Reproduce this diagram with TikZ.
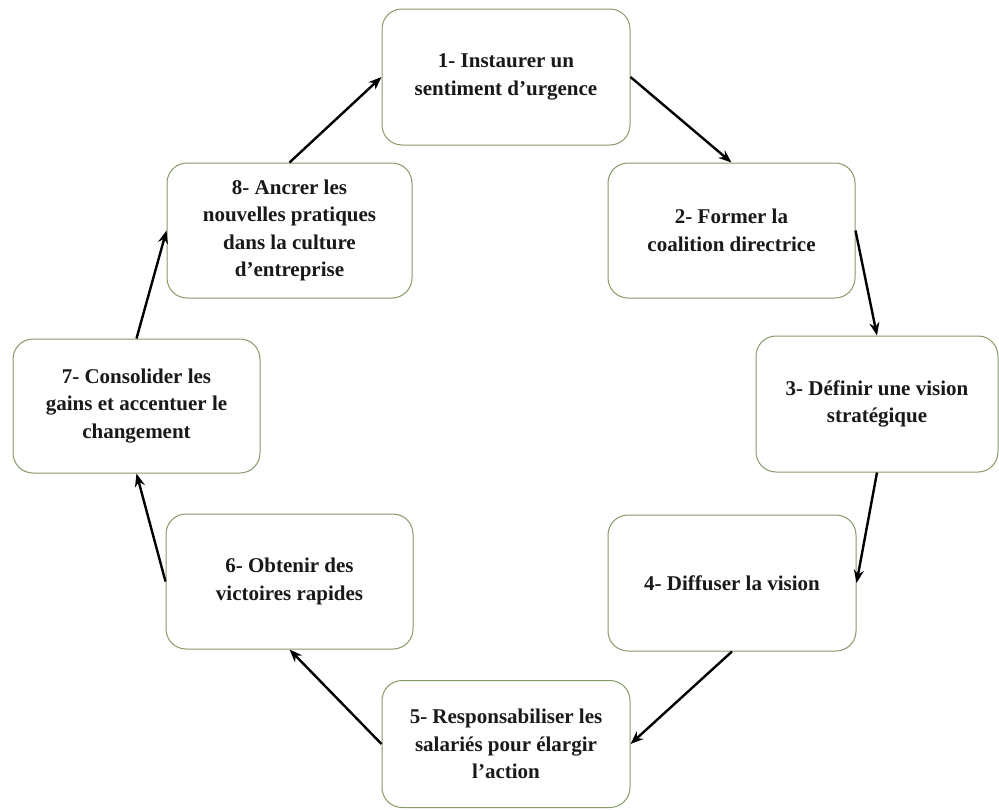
\documentclass[tikz,border=0pt]{standalone}
\usepackage{fontspec}
\setmainfont{Liberation Serif}
\usetikzlibrary{arrows.meta}
\definecolor{boxline}{RGB}{135,155,105}
\definecolor{txt}{RGB}{25,25,25}
\begin{document}
\begin{tikzpicture}[x=1pt,y=-1pt,
  stepbox/.style={draw=boxline, line width=1pt, rounded corners=20pt, fill=white,
    inner sep=0pt, align=center, text=txt,
    font=\fontsize{21}{27.5}\selectfont\bfseries},
  flow/.style={line width=2.4pt, black, -{Stealth[length=13pt,width=10pt]}}]
\useasboundingbox (0,0) rectangle (999,809);
\fill[white] (0,0) rectangle (999,809);
\node[stepbox, minimum width=248pt, minimum height=136pt] (b1) at (506,77) {1- Instaurer un\\sentiment d’urgence};
\node[stepbox, minimum width=247pt, minimum height=135pt] (b2) at (731.5,230.5) {2- Former la\\coalition directrice};
\node[stepbox, minimum width=242pt, minimum height=136pt] (b3) at (877,404) {3- Définir une vision\\stratégique};
\node[stepbox, minimum width=248pt, minimum height=136pt] (b4) at (732,583) {4- Diffuser la vision};
\node[stepbox, minimum width=248pt, minimum height=127pt] (b5) at (506,744) {5- Responsabiliser les\\salariés pour élargir\\l’action};
\node[stepbox, minimum width=247pt, minimum height=135pt] (b6) at (289.5,581.5) {6- Obtenir des\\victoires rapides};
\node[stepbox, minimum width=247pt, minimum height=134pt] (b7) at (136.5,406) {7- Consolider les\\gains et accentuer le\\changement};
\node[stepbox, minimum width=245pt, minimum height=135pt] (b8) at (289.5,230.5) {8- Ancrer les\\nouvelles pratiques\\dans la culture\\d’entreprise};
\draw[flow] (b1.east) -- (b2.north);
\draw[flow] (b2.east) -- (b3.north);
\draw[flow] (b3.south) -- (b4.east);
\draw[flow] (b4.south) -- (b5.east);
\draw[flow] (b5.west) -- (b6.south);
\draw[flow] (b6.west) -- (b7.south);
\draw[flow] (b7.north) -- (b8.west);
\draw[flow] (b8.north) -- (b1.west);
\end{tikzpicture}
\end{document}
